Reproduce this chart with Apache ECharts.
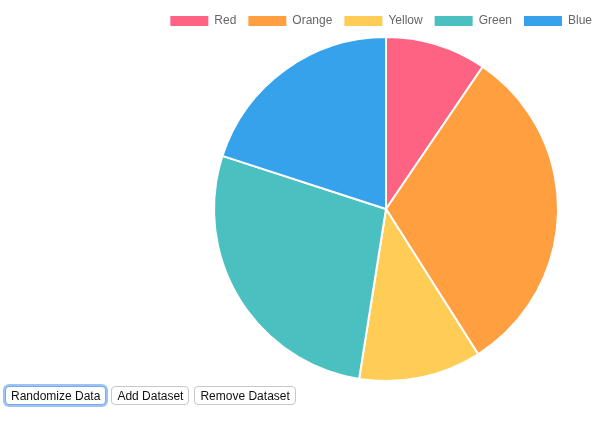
<!DOCTYPE html>
<html>
<head>
<meta charset="utf-8">
<script src="https://cdn.jsdelivr.net/npm/echarts@6/dist/echarts.min.js"></script>
<style>
html,body{margin:0;padding:0;background:#fff;}
#chart{position:absolute;left:0;top:0;width:616px;height:447px;}
.btns{position:absolute;left:5px;top:386px;font-family:"Liberation Sans",Arial,sans-serif;display:flex;}
button{font-family:"Liberation Sans",Arial,sans-serif;font-size:12px;height:19px;padding:0 5px;margin:0 5px 0 0;background:#fff;border:1px solid #c8c8c8;border-radius:4px;color:#111;}
button.focus{box-shadow:0 0 0 2px #9cc3f5;border-color:#7aa8e8;}
</style>
</head>
<body>
<div id="chart"></div>
<div class="btns"><button class="focus">Randomize Data</button><button>Add Dataset</button><button>Remove Dataset</button></div>
<script>
const categories = ["Red", "Orange", "Yellow", "Green", "Blue"];
const values = [19, 63, 23, 55, 40];
const colors = ["rgb(255,99,132)", "rgb(255,159,64)", "rgb(255,205,86)", "rgb(75,192,192)", "rgb(54,162,235)"];

const chart = echarts.init(document.getElementById('chart'), null, {renderer: 'canvas'});
chart.setOption({
  animation: false,
  legend: {
    data: categories,
    right: 19,
    top: 9,
    itemWidth: 40,
    itemHeight: 12,
    itemGap: 10,
    icon: 'rect',
    textStyle: {color: '#666', fontSize: 12, fontFamily: '"Liberation Sans", Arial, sans-serif'}
  },
  series: [{
    type: 'pie',
    center: [386, 209],
    radius: 172,
    startAngle: 90,
    clockwise: true,
    label: {show: false},
    labelLine: {show: false},
    emphasis: {disabled: true},
    itemStyle: {borderColor: '#fff', borderWidth: 2},
    data: categories.map((c, i) => ({name: c, value: values[i], itemStyle: {color: colors[i]}}))
  }]
});
</script>
</body>
</html>
